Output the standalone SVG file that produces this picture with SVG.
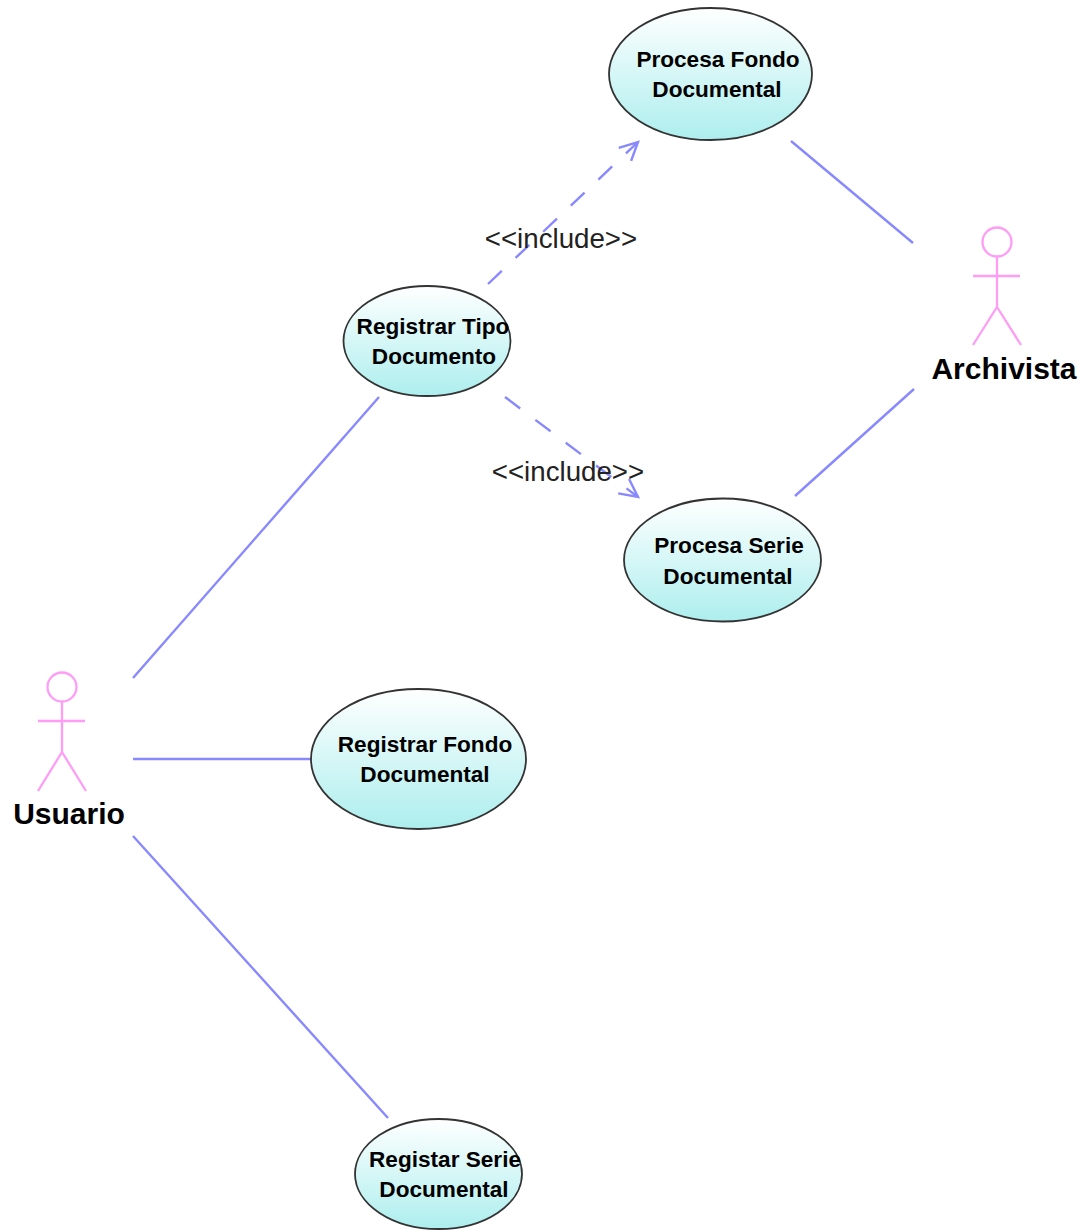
<svg xmlns="http://www.w3.org/2000/svg" width="1088" height="1230" viewBox="0 0 1088 1230">
<style>
.uc{stroke:#333333;stroke-width:1.8;fill:url(#g)}
.t{font-family:"Liberation Sans",Arial,sans-serif;font-size:22.600px;font-weight:bold;fill:#000;text-anchor:middle}
.a{font-family:"Liberation Sans",Arial,sans-serif;font-size:30px;font-weight:bold;fill:#000;text-anchor:middle}
.i{font-family:"Liberation Sans",Arial,sans-serif;font-size:27.700px;fill:#222;text-anchor:middle}
.c{stroke:#8888ff;stroke-width:2.4;fill:none}
.d{stroke-dasharray:19 19}
.p{stroke:#ff9cf5;stroke-width:2.300;fill:none}
</style>
<defs><linearGradient id="g" x1="0" y1="0" x2="0" y2="1"><stop offset="0" stop-color="#ffffff"/><stop offset="1" stop-color="#adeeee"/></linearGradient>
<marker id="ah" markerUnits="userSpaceOnUse" markerWidth="30" markerHeight="30" refX="23" refY="12" orient="auto"><path d="M5 3L23 12L5 21" fill="none" stroke="#8888ff" stroke-width="2.4"/></marker></defs>
<rect width="1088" height="1230" fill="#fff"/>
<g id="connectors">
<path class="c" d="M791 141L913 243"/>
<path class="c" d="M914 389L795 496"/>
<path class="c" d="M379 397L133 678"/>
<path class="c" d="M133 759H311"/>
<path class="c" d="M133 836L388 1118"/>
<path class="c d" d="M488 284L638 142" marker-end="url(#ah)"/>
<path class="c d" d="M505 397L638 497" marker-end="url(#ah)"/>
</g>
<g id="uc-fondo"><ellipse class="uc" cx="710.500" cy="74" rx="101.500" ry="66"/><text class="t" x="718" y="67">Procesa Fondo</text><text class="t" x="717" y="97">Documental</text></g>
<g id="uc-tipo"><ellipse class="uc" cx="427" cy="341" rx="83.500" ry="55"/><text class="t" x="433" y="334">Registrar Tipo</text><text class="t" x="434" y="364">Documento</text></g>
<g id="uc-serie"><ellipse class="uc" cx="722.500" cy="560" rx="98.500" ry="61.500"/><text class="t" x="729" y="553">Procesa Serie</text><text class="t" x="728" y="584">Documental</text></g>
<g id="uc-rfondo"><ellipse class="uc" cx="418.500" cy="759" rx="107.500" ry="70"/><text class="t" x="425" y="752">Registrar Fondo</text><text class="t" x="425" y="782">Documental</text></g>
<g id="uc-rserie"><ellipse class="uc" cx="438.500" cy="1174" rx="83.500" ry="55"/><text class="t" x="445" y="1167">Registar Serie</text><text class="t" x="444" y="1197">Documental</text></g>
<g id="actor-usuario"><circle class="p" cx="62" cy="687" r="14.500"/><path class="p" d="M62 701V752M38 721H85M62 752L38 791M62 752L86 791"/><text class="a" x="69" y="824">Usuario</text></g>
<g id="actor-archivista"><circle class="p" cx="997" cy="242" r="14.500"/><path class="p" d="M997 256V307M973 276H1020M997 307L973 345M997 307L1021 345"/><text class="a" x="1004" y="379">Archivista</text></g>
<text class="i" x="561" y="248">&lt;&lt;include&gt;&gt;</text>
<text class="i" x="568" y="481">&lt;&lt;include&gt;&gt;</text>
</svg>
